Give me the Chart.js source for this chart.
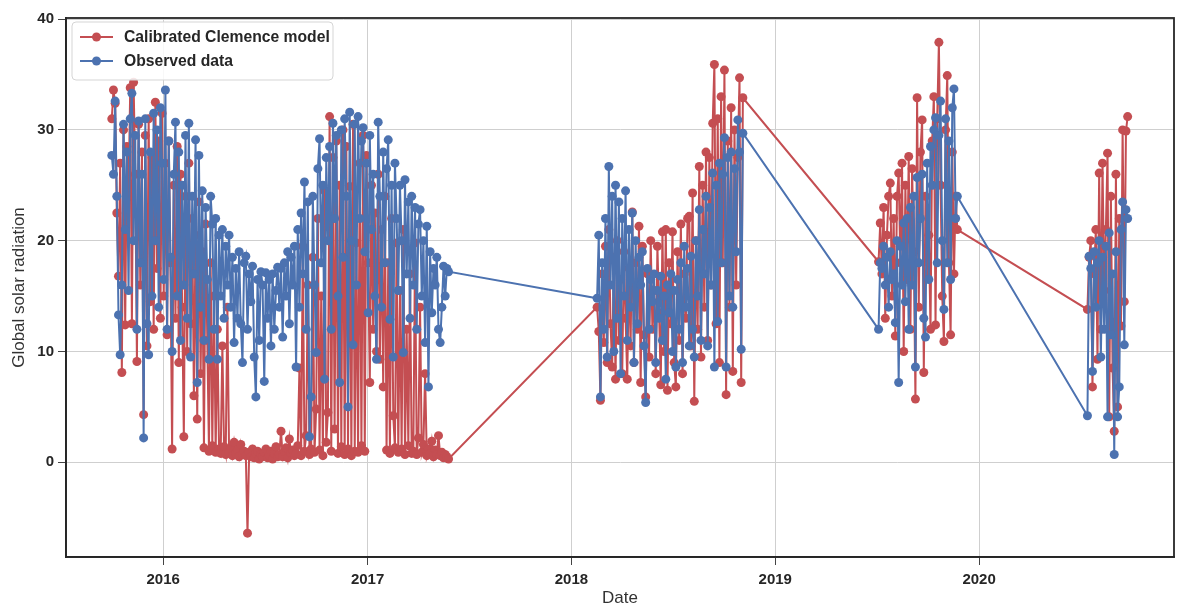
<!DOCTYPE html>
<html>
<head>
<meta charset="utf-8">
<script src="https://cdn.jsdelivr.net/npm/chart.js@4.4.1/dist/chart.umd.min.js"></script>
<style>
  html, body { margin: 0; padding: 0; background: #ffffff; }
  #wrap { width: 1179px; height: 605px; position: relative; }
</style>
</head>
<body>
<div id="wrap"><canvas id="chart" width="1179" height="605"></canvas></div>
<script>
// Series names and axis labels
const seriesNames = ['Calibrated Clemence model', 'Observed data'];
const xTitle = 'Date';
const yTitle = 'Global solar radiation';
const yearTicks = [2016, 2017, 2018, 2019, 2020];

// Measurement campaigns: first day of each block, samples every 3 days
const campaignStarts = ['2015-10-01', '2018-02-16', '2019-07-05', '2020-07-13'];
const sampleStepDays = 3;

// Campaign 1: Oct 2015 - May 2017
const model1 = [
  31.0, 33.6, 32.4, 22.5, 16.8, 27.0, 8.1, 30.0, 12.4, 28.5,
  24.0, 33.8, 12.5, 34.3, 26.0, 9.1, 30.5, 16.0, 28.0, 4.3,
  29.5, 10.5, 31.0, 14.5, 27.5, 12.0, 32.5, 17.5, 29.0, 13.0,
  31.5, 15.0, 27.0, 11.5, 29.0, 18.0, 1.2, 25.0, 13.0, 28.5,
  9.0, 26.0, 14.0, 2.3, 24.0, 10.0, 27.0, 12.5, 22.0, 6.0,
  20.5, 3.9, 23.5, 8.0, 19.0, 1.3, 21.5, 11.0, 1.0, 18.0,
  1.5, 15.0, 0.9, 12.0, 1.2, 0.8, 10.5, 1.4, 0.7, 14.0,
  0.9, 1.3, 0.6, 1.8, 0.8, 1.1, 0.5, 1.6, 0.7, 1.0,
  0.6, -6.4, 0.9, 0.5, 1.2, 0.4, 0.8, 1.0, 0.3, 0.7,
  0.5, 0.9, 1.2, 0.4, 0.6, 1.0, 0.3, 0.8, 1.4, 0.5,
  0.7, 2.8, 0.5, 1.0, 1.3, 0.4, 2.1, 0.8, 1.1, 0.6,
  0.8, 1.5, 8.5, 0.6, 19.5, 1.0, 2.4, 16.0, 0.7, 1.2,
  18.5, 0.9, 4.8, 22.0, 1.1, 15.0, 0.6, 24.5, 1.8, 4.5,
  31.2, 1.0, 27.5, 3.0, 29.0, 0.8, 25.0, 1.4, 30.0, 0.7,
  28.5, 1.2, 24.9, 0.6, 30.5, 1.0, 19.8, 0.9, 27.0, 1.5,
  29.5, 1.0, 27.7, 18.0, 7.2, 25.0, 12.0, 22.5, 10.0, 26.0,
  9.3, 21.0, 6.8, 24.0, 1.1, 18.0, 0.8, 22.0, 4.2, 1.3,
  19.8, 0.9, 15.5, 1.2, 21.0, 0.7, 12.0, 1.5, 17.0, 0.8,
  1.0, 19.8, 0.7, 2.2, 14.0, 0.9, 1.6, 8.0, 0.6, 1.2,
  0.8, 1.9, 0.5, 1.1, 0.7, 2.4, 0.6, 0.9, 0.4, 0.7, 0.5, 0.3
];
const observed1 = [
  27.7, 26.0, 32.6, 24.0, 13.3, 9.7, 16.0, 30.5, 21.0, 28.0,
  15.5, 31.0, 33.3, 20.0, 29.5, 12.0, 30.8, 18.0, 26.0, 2.2,
  31.0, 12.5, 9.7, 28.0, 15.0, 31.5, 20.0, 30.0, 14.0, 32.0,
  27.0, 16.5, 33.6, 12.0, 29.0, 18.5, 10.0, 26.0, 30.7, 15.0,
  28.0, 11.0, 25.0, 16.0, 29.5, 13.0, 30.6, 9.5, 24.0, 17.0,
  29.1, 7.2, 27.7, 14.0, 24.5, 11.0, 23.0, 16.5, 9.3, 24.0,
  21.5, 12.0, 22.0, 9.3, 20.5, 15.0, 21.0, 13.0, 19.5, 16.0,
  20.5, 14.0, 18.5, 10.8, 17.5, 13.0, 19.0, 12.5, 9.0, 18.0,
  18.6, 12.0, 17.0, 14.5, 17.7, 9.5, 5.9, 16.5, 11.0, 17.2,
  16.0, 7.3, 17.1, 13.0, 16.5, 10.5, 17.0, 12.0, 15.5, 17.6,
  14.0, 17.5, 11.3, 18.0, 15.0, 19.0, 12.5, 18.5, 16.0, 19.5,
  8.6, 21.0, 14.0, 22.5, 17.0, 25.3, 12.0, 23.5, 2.3, 5.9,
  24.0, 16.0, 9.9, 26.5, 29.2, 18.0, 25.0, 7.5, 27.5, 20.0,
  28.5, 12.0, 30.6, 22.0, 29.5, 15.0, 7.2, 30.0, 18.5, 31.0,
  24.0, 5.0, 31.6, 20.0, 10.6, 30.5, 16.0, 31.2, 22.0, 29.0,
  30.2, 19.0, 27.0, 13.5, 29.5, 21.0, 26.0, 15.0, 9.3, 30.7,
  24.0, 14.0, 28.0, 18.0, 26.5, 29.1, 12.9, 25.0, 9.5, 27.0,
  22.0, 15.5, 25.0, 20.0, 9.9, 25.5, 17.0, 23.5, 13.0, 24.0,
  16.0, 23.0, 12.0, 21.5, 22.8, 15.0, 20.0, 10.8, 21.3, 6.8,
  19.0, 13.5, 17.5, 16.0, 18.5, 12.0, 10.8, 14.0, 17.7, 15.0, 17.5, 17.2
];

// Campaign 2: Feb - Oct 2018
const model2 = [
  14.0, 11.8, 5.6, 17.0, 10.8, 19.5, 9.0, 21.0, 12.5, 8.6,
  18.5, 7.5, 20.0, 11.0, 16.5, 8.0, 19.0, 13.0, 7.5, 17.5,
  10.5, 22.6, 9.0, 18.0, 12.0, 21.3, 7.2, 19.5, 11.5, 5.9,
  17.0, 9.5, 20.0, 12.0, 15.5, 8.0, 19.5, 13.5, 7.0, 20.8,
  10.0, 21.0, 6.5, 18.0, 12.5, 20.8, 9.0, 6.8, 19.0, 11.0,
  21.5, 8.0, 17.0, 13.0, 22.0, 22.2, 10.5, 24.3, 5.5, 20.0,
  12.0, 26.7, 9.5, 25.0, 14.0, 28.0, 11.0, 27.5, 16.0, 30.6,
  35.9, 12.5, 31.0, 9.0, 33.0, 18.0, 35.4, 6.1, 29.0, 14.0,
  32.0, 8.2, 30.0, 16.0, 27.5, 34.7, 7.2, 32.9
];
const observed2 = [
  14.8, 20.5, 5.9, 18.0, 12.0, 22.0, 9.5, 26.7, 16.0, 24.0,
  10.0, 25.0, 13.0, 23.5, 8.0, 22.0, 15.0, 24.5, 11.0, 21.0,
  14.0, 22.5, 9.0, 20.0, 12.5, 18.5, 16.0, 19.0, 10.5, 5.4,
  17.5, 12.0, 16.5, 14.5, 17.0, 9.0, 15.5, 13.0, 16.8, 11.0,
  15.0, 7.5, 16.0, 13.5, 17.0, 10.0, 15.5, 8.6, 16.5, 12.0,
  18.0, 9.0, 19.5, 14.0, 17.5, 10.5, 18.6, 12.0, 9.5, 20.0,
  15.0, 22.8, 11.0, 21.0, 17.0, 24.0, 10.5, 23.0, 16.0, 26.1,
  8.6, 25.0, 12.7, 27.0, 18.0, 26.0, 29.3, 8.6, 27.5, 15.0,
  28.0, 14.0, 26.5, 19.0, 30.9, 28.0, 10.2, 29.7
];

// Campaign 3: Jul - Nov 2019
const model3 = [
  18.1, 21.6, 17.0, 23.0, 13.0, 20.5, 24.0, 25.2, 15.0, 22.0,
  11.4, 24.0, 26.1, 18.0, 27.0, 10.0, 25.0, 16.5, 27.6, 12.0,
  26.5, 19.0, 5.7, 32.9, 14.0, 28.0, 30.9, 8.1, 24.0, 17.0,
  20.5, 12.0, 29.0, 33.0, 12.4, 31.0, 37.9, 25.0, 15.0, 10.9,
  30.0, 34.9, 18.0, 11.5, 28.0, 17.0, 24.0, 21.0
];
const observed3 = [
  12.0, 18.0, 17.5, 19.5, 16.0, 18.5, 14.0, 19.0, 16.5, 17.0,
  12.6, 20.0, 7.2, 19.5, 16.0, 21.6, 14.5, 22.0, 12.0, 23.0,
  16.0, 24.0, 8.6, 25.7, 18.0, 22.0, 26.0, 13.0, 11.3, 27.0,
  16.5, 28.5, 25.0, 30.0, 31.1, 18.0, 29.5, 32.6, 20.0, 13.8,
  31.0, 18.0, 29.0, 16.5, 32.0, 33.7, 22.0, 24.0
];

// Campaign 4: Jul - Sep 2020
const model4 = [
  13.8, 18.5, 20.0, 6.8, 17.0, 21.0, 9.3, 26.1, 12.0, 27.0,
  15.5, 21.0, 27.9, 4.1, 24.0, 8.5, 2.8, 26.0, 5.0, 22.0,
  12.3, 30.0, 14.5, 29.9, 31.2
];
const observed4 = [
  4.2, 18.6, 17.5, 8.2, 19.0, 14.0, 18.0, 20.0, 9.5, 18.5,
  12.0, 19.5, 4.1, 20.7, 11.5, 17.0, 0.7, 19.0, 4.1, 6.8,
  21.0, 23.5, 10.6, 22.8, 22.0
];

const DAY_MS = 86400000;
const utc = s => Date.parse(s + 'T00:00:00Z');

// Pair each campaign's values with their sampling dates
function campaign(start, values) {
  const t0 = utc(start);
  return values.map((v, i) => ({ x: t0 + i * sampleStepDays * DAY_MS, y: v }));
}
const modelPoints = [model1, model2, model3, model4]
  .flatMap((vals, k) => campaign(campaignStarts[k], vals));
const observedPoints = [observed1, observed2, observed3, observed4]
  .flatMap((vals, k) => campaign(campaignStarts[k], vals));

const RED = '#C44E52';
const BLUE = '#4C72B0';
const INK = '#262626';
const FONT = "'Liberation Sans', Arial, sans-serif";

// Axes frame on all four sides
const framePlugin = {
  id: 'frame',
  afterDraw(chart) {
    const { ctx, chartArea: a } = chart;
    ctx.save();
    ctx.strokeStyle = INK;
    ctx.lineWidth = 1.8;
    ctx.strokeRect(a.left, a.top, a.right - a.left, a.bottom - a.top);
    ctx.restore();
  }
};

// Legend box in the upper-left corner of the plot
const insetLegend = {
  id: 'insetLegend',
  afterDraw(chart) {
    const { ctx, chartArea: a } = chart;
    const x0 = a.left + 6, y0 = a.top + 4, w = 261, h = 58, r = 4;
    ctx.save();
    ctx.beginPath();
    ctx.moveTo(x0 + r, y0);
    ctx.arcTo(x0 + w, y0, x0 + w, y0 + h, r);
    ctx.arcTo(x0 + w, y0 + h, x0, y0 + h, r);
    ctx.arcTo(x0, y0 + h, x0, y0, r);
    ctx.arcTo(x0, y0, x0 + w, y0, r);
    ctx.closePath();
    ctx.fillStyle = 'rgba(255,255,255,0.85)';
    ctx.fill();
    ctx.strokeStyle = '#d5d5d5';
    ctx.lineWidth = 1;
    ctx.stroke();
    chart.data.datasets.forEach((ds, i) => {
      const cy = y0 + 15 + i * 24;
      ctx.strokeStyle = ds.borderColor;
      ctx.lineWidth = 2;
      ctx.beginPath();
      ctx.moveTo(x0 + 8, cy);
      ctx.lineTo(x0 + 41, cy);
      ctx.stroke();
      ctx.fillStyle = ds.backgroundColor;
      ctx.beginPath();
      ctx.arc(x0 + 24.5, cy, 4.5, 0, Math.PI * 2);
      ctx.fill();
      ctx.fillStyle = INK;
      ctx.font = 'bold 15.7px ' + FONT;
      ctx.textBaseline = 'middle';
      ctx.textAlign = 'left';
      ctx.fillText(ds.label, x0 + 52, cy + 1);
    });
    ctx.restore();
  }
};

new Chart(document.getElementById('chart'), {
  type: 'line',
  data: {
    datasets: [
      {
        label: seriesNames[0],
        data: modelPoints,
        borderColor: RED,
        backgroundColor: RED,
        order: 1
      },
      {
        label: seriesNames[1],
        data: observedPoints,
        borderColor: BLUE,
        backgroundColor: BLUE,
        order: 0
      }
    ]
  },
  options: {
    responsive: false,
    animation: false,
    devicePixelRatio: 1,
    layout: { padding: { top: 18, right: 5, left: 0, bottom: 0 } },
    elements: {
      line: { borderWidth: 2, tension: 0 },
      point: { radius: 4.5, hoverRadius: 4.5, borderWidth: 0, pointStyle: 'circle' }
    },
    plugins: {
      legend: { display: false },
      tooltip: { enabled: false }
    },
    scales: {
      x: {
        type: 'linear',
        min: utc('2015-07-11'),
        max: utc('2020-12-15'),
        afterBuildTicks(axis) {
          axis.ticks = yearTicks.map(y => ({ value: Date.UTC(y, 0, 1) }));
        },
        afterFit(axis) { axis.height = 48; },
        ticks: {
          includeBounds: false,
          autoSkip: false,
          maxRotation: 0,
          padding: 6,
          color: INK,
          font: { family: FONT, size: 15, weight: 'bold' },
          callback: v => String(new Date(v).getUTCFullYear())
        },
        grid: { color: '#cfcfcf', lineWidth: 1, tickLength: 8, tickColor: '#444444' },
        border: { display: true, color: INK, width: 1.8 },
        title: {
          display: true,
          text: xTitle,
          color: '#333333',
          font: { family: FONT, size: 17 },
          padding: { top: 0, bottom: -4 }
        }
      },
      y: {
        type: 'linear',
        min: -8.55,
        max: 40.1,
        afterFit(axis) { axis.width = 66; },
        ticks: {
          stepSize: 10,
          includeBounds: false,
          padding: 4,
          color: INK,
          font: { family: FONT, size: 15, weight: 'bold' }
        },
        grid: { color: '#cfcfcf', lineWidth: 1, tickLength: 8, tickColor: '#444444' },
        border: { display: true, color: INK, width: 1.8 },
        title: {
          display: true,
          text: yTitle,
          color: '#333333',
          font: { family: FONT, size: 17 },
          padding: { top: 9, bottom: 0 }
        }
      }
    }
  },
  plugins: [framePlugin, insetLegend]
});
</script>
</body>
</html>
